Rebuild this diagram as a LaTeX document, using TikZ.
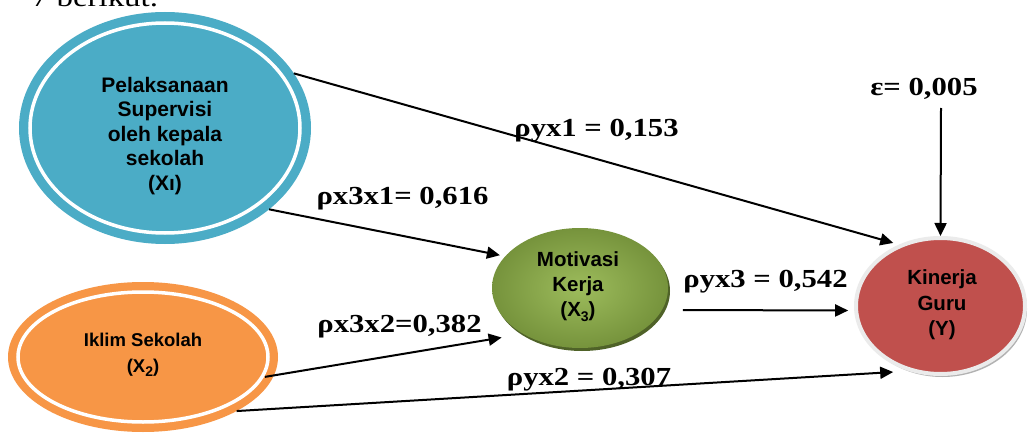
\documentclass[tikz,border=0pt]{standalone}
\usepackage{fontspec}
\usetikzlibrary{arrows.meta,shapes.geometric,shadows}

\newfontfamily\lblfont[FakeStretch=1.18]{Liberation Serif Bold}
\newfontfamily\introfont[FakeStretch=1.22]{Liberation Serif}
\newfontfamily\nodefont{Liberation Sans}

\definecolor{supblue}{HTML}{4BACC6}
\definecolor{iklimorange}{HTML}{F79646}
\definecolor{motgreen}{HTML}{9DBC5C}
\definecolor{motgreenedge}{HTML}{76933C}
\definecolor{motshadow}{HTML}{4F6228}
\definecolor{kinred}{HTML}{C0504D}
\definecolor{ringgrey}{HTML}{EBEBEB}

\tikzset{
  bubble/.style={ellipse, inner sep=0pt, outer sep=0pt, draw=none},
  innerring/.style={draw=white, line width=3.5pt},
  nodetxt/.style={align=center, inner sep=0pt},
  lbl/.style={font=\lblfont\fontsize{26}{30}\selectfont, anchor=base, inner sep=0pt},
  arr/.style={draw=black, line width=2pt, -{Triangle[length=13pt,width=12pt]}}
}

\newcommand{\lowidx}[1]{\raisebox{-0.22em}{\fontsize{14}{14}\selectfont #1}}

\begin{document}
\begin{tikzpicture}[x=1pt,y=-1pt]
\useasboundingbox (0,0) rectangle (1028,433);
\fill[white] (0,0) rectangle (1028,433);

% line of running text above the figure
\node[font=\introfont\fontsize{27}{32}\selectfont, anchor=base, inner sep=0pt] (intro) at (95,7) {7 berikut.};

% X1: supervision by the principal
\node[bubble, fill=supblue, minimum width=292pt, minimum height=232pt] (X1) at (165,128) {};
\draw[innerring] (X1.center) ellipse [x radius=135pt, y radius=105pt];
\node[nodetxt, font=\nodefont\bfseries\fontsize{21}{24.5}\selectfont] (X1t) at (165,136)
  {Pelaksanaan\\Supervisi\\oleh kepala\\sekolah\\(Xı)};

% X2: school climate
\node[bubble, fill=iklimorange, minimum width=270pt, minimum height=150pt] (X2) at (143,357) {};
\draw[innerring] (X2.center) ellipse [x radius=125pt, y radius=65pt];
\node[nodetxt, font=\nodefont\bfseries\fontsize{18.5}{26}\selectfont] (X2t) at (143,355)
  {Iklim Sekolah\\(X\lowidx{2})};

% X3: work motivation
\node[bubble, minimum width=176pt, minimum height=120pt,
      inner color=motgreen, outer color=motgreenedge,
      drop shadow={shadow xshift=2pt, shadow yshift=-3pt, fill=motshadow, opacity=1}] (X3) at (580,288) {};
\node[nodetxt, font=\nodefont\bfseries\fontsize{20.5}{25}\selectfont] (X3t) at (578,286.5)
  {Motivasi\\Kerja\\(X\lowidx{3})};

% Y: teacher performance
\node[bubble, fill=kinred, draw=ringgrey, line width=4pt, outer sep=2pt,
      minimum width=169pt, minimum height=136pt,
      drop shadow={shadow xshift=2pt, shadow yshift=-3pt, fill=black!30, opacity=1}] (Y) at (940.5,306) {};
\node[nodetxt, font=\nodefont\bfseries\fontsize{20.5}{25.5}\selectfont] (Yt) at (942,305)
  {Kinerja\\Guru\\(Y)};

% path coefficients
\node[lbl] (l1) at (596.5,137) {ρyx1 = 0,153};
\node[lbl] (l2) at (924,96) {ε= 0,005};
\node[lbl] (l3) at (402.5,204) {ρx3x1= 0,616};
\node[lbl] (l4) at (399.5,332) {ρx3x2=0,382};
\node[lbl] (l5) at (765.5,287) {ρyx3 = 0,542};
\node[lbl] (l6) at (589,385) {ρyx2 = 0,307};

\coordinate (eps) at (941,108);

% paths
\draw[arr, shorten >=6pt] (X1.23) -- (Y.124);
\draw[arr, shorten >=15.6pt] (X2.-30) -- (Y.244);
\draw[arr, shorten >=5.5pt] (X1.-38) -- (X3.157);
\draw[arr, shorten <=-9pt, shorten >=22pt] (X2.-8) -- (X3.219);
\draw[arr, shorten <=21pt, shorten >=6pt] (X3.-15) -- (Y.183);
\draw[arr] (eps) -- (Y.90);
\end{tikzpicture}
\end{document}
